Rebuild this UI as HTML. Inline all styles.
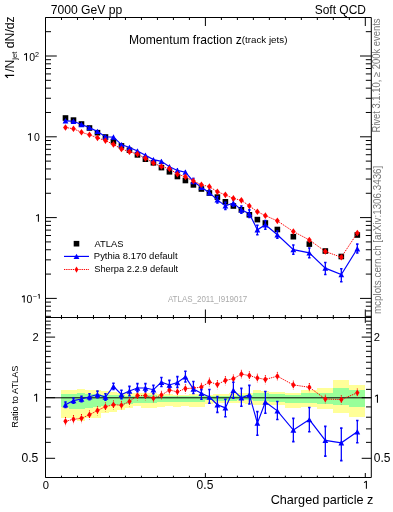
<!DOCTYPE html><html><head><meta charset="utf-8"><style>html,body{margin:0;padding:0;background:#fff;width:393px;height:512px;overflow:hidden;position:relative}</style></head><body><svg width="393" height="512" viewBox="0 0 393 512" style="position:absolute;left:0;top:0;will-change:transform">
<g font-family='"Liberation Sans", sans-serif'>
<g shape-rendering="crispEdges"><rect x="61.49" y="390.1" width="7.99" height="27.4" fill="#ffff99"/><rect x="69.48" y="390.1" width="7.99" height="27.6" fill="#ffff99"/><rect x="77.48" y="389.2" width="7.99" height="31.6" fill="#ffff99"/><rect x="85.47" y="389.5" width="8" height="28.8" fill="#ffff99"/><rect x="93.47" y="390.3" width="8" height="27.2" fill="#ffff99"/><rect x="101.47" y="390.8" width="8" height="22.3" fill="#ffff99"/><rect x="109.46" y="391.5" width="8" height="20.3" fill="#ffff99"/><rect x="117.45" y="392.7" width="8" height="17.2" fill="#ffff99"/><rect x="125.45" y="393.4" width="7.99" height="14.8" fill="#ffff99"/><rect x="133.44" y="393" width="8" height="13.1" fill="#ffff99"/><rect x="141.44" y="392.7" width="8" height="15.5" fill="#ffff99"/><rect x="149.44" y="392.7" width="8" height="15.5" fill="#ffff99"/><rect x="157.43" y="393.7" width="8" height="13.7" fill="#ffff99"/><rect x="165.43" y="394" width="8" height="12.1" fill="#ffff99"/><rect x="173.42" y="394.6" width="8" height="12.1" fill="#ffff99"/><rect x="181.41" y="394.6" width="8" height="11.5" fill="#ffff99"/><rect x="189.41" y="394.2" width="8" height="12.5" fill="#ffff99"/><rect x="197.41" y="394.2" width="7.99" height="12.5" fill="#ffff99"/><rect x="205.4" y="395" width="8" height="8.5" fill="#ffff99"/><rect x="213.4" y="394.2" width="7.99" height="8.7" fill="#ffff99"/><rect x="221.39" y="394" width="7.99" height="8.9" fill="#ffff99"/><rect x="229.39" y="393.4" width="7.99" height="9.8" fill="#ffff99"/><rect x="237.38" y="392.7" width="7.99" height="10.2" fill="#ffff99"/><rect x="245.38" y="392.7" width="7.99" height="10.8" fill="#ffff99"/><rect x="253.37" y="390.2" width="7.99" height="14.6" fill="#ffff99"/><rect x="261.37" y="390.8" width="8" height="14" fill="#ffff99"/><rect x="269.36" y="392" width="15.99" height="12.5" fill="#ffff99"/><rect x="285.35" y="393" width="15.99" height="14.7" fill="#ffff99"/><rect x="301.34" y="390" width="15.99" height="16.7" fill="#ffff99"/><rect x="317.33" y="388" width="15.99" height="20.6" fill="#ffff99"/><rect x="333.32" y="380" width="15.99" height="32.6" fill="#ffff99"/><rect x="349.31" y="385" width="15.99" height="31.7" fill="#ffff99"/><rect x="61.49" y="393.8" width="7.99" height="13.6" fill="#99ff99"/><rect x="69.48" y="393.8" width="7.99" height="14.8" fill="#99ff99"/><rect x="77.48" y="393.1" width="7.99" height="15.5" fill="#99ff99"/><rect x="85.47" y="393.5" width="8" height="14.1" fill="#99ff99"/><rect x="93.47" y="394.2" width="8" height="12.5" fill="#99ff99"/><rect x="101.47" y="395" width="8" height="11.1" fill="#99ff99"/><rect x="109.46" y="395" width="8" height="10.4" fill="#99ff99"/><rect x="117.45" y="395.3" width="8" height="9.5" fill="#99ff99"/><rect x="125.45" y="395.9" width="7.99" height="8" fill="#99ff99"/><rect x="133.44" y="396.3" width="8" height="6.6" fill="#99ff99"/><rect x="141.44" y="395" width="8" height="7.6" fill="#99ff99"/><rect x="149.44" y="395.2" width="8" height="7.4" fill="#99ff99"/><rect x="157.43" y="395.9" width="8" height="6.4" fill="#99ff99"/><rect x="165.43" y="395.9" width="8" height="6" fill="#99ff99"/><rect x="173.42" y="396.3" width="8" height="5.3" fill="#99ff99"/><rect x="181.41" y="396.3" width="8" height="5.3" fill="#99ff99"/><rect x="189.41" y="395.9" width="8" height="5.7" fill="#99ff99"/><rect x="197.41" y="395.9" width="7.99" height="5.7" fill="#99ff99"/><rect x="205.4" y="396.3" width="8" height="4.1" fill="#99ff99"/><rect x="213.4" y="395.9" width="7.99" height="5.1" fill="#99ff99"/><rect x="221.39" y="395.9" width="7.99" height="5.1" fill="#99ff99"/><rect x="229.39" y="395.5" width="7.99" height="5.9" fill="#99ff99"/><rect x="237.38" y="395" width="7.99" height="5.1" fill="#99ff99"/><rect x="245.38" y="395" width="7.99" height="5.3" fill="#99ff99"/><rect x="253.37" y="393.4" width="7.99" height="7.6" fill="#99ff99"/><rect x="261.37" y="393.4" width="8" height="7.6" fill="#99ff99"/><rect x="269.36" y="394.3" width="15.99" height="7.2" fill="#99ff99"/><rect x="285.35" y="394.7" width="15.99" height="8" fill="#99ff99"/><rect x="301.34" y="393" width="15.99" height="9.7" fill="#99ff99"/><rect x="317.33" y="393" width="15.99" height="10.8" fill="#99ff99"/><rect x="333.32" y="388.4" width="15.99" height="16.4" fill="#99ff99"/><rect x="349.31" y="390.3" width="15.99" height="16.6" fill="#99ff99"/></g>
<line x1="45.5" y1="397.8" x2="371.3" y2="397.8" stroke="#000" stroke-width="1"/>
<line x1="45.5" y1="316.33" x2="51" y2="316.33" stroke="#000" stroke-width="1"/><line x1="371.3" y1="316.33" x2="365.8" y2="316.33" stroke="#000" stroke-width="1"/><line x1="45.5" y1="310.92" x2="51" y2="310.92" stroke="#000" stroke-width="1"/><line x1="371.3" y1="310.92" x2="365.8" y2="310.92" stroke="#000" stroke-width="1"/><line x1="45.5" y1="306.23" x2="51" y2="306.23" stroke="#000" stroke-width="1"/><line x1="371.3" y1="306.23" x2="365.8" y2="306.23" stroke="#000" stroke-width="1"/><line x1="45.5" y1="302.1" x2="51" y2="302.1" stroke="#000" stroke-width="1"/><line x1="371.3" y1="302.1" x2="365.8" y2="302.1" stroke="#000" stroke-width="1"/><line x1="45.5" y1="298.4" x2="56.8" y2="298.4" stroke="#000" stroke-width="1"/><line x1="371.3" y1="298.4" x2="360" y2="298.4" stroke="#000" stroke-width="1"/><line x1="45.5" y1="274.08" x2="51" y2="274.08" stroke="#000" stroke-width="1"/><line x1="371.3" y1="274.08" x2="365.8" y2="274.08" stroke="#000" stroke-width="1"/><line x1="45.5" y1="259.85" x2="51" y2="259.85" stroke="#000" stroke-width="1"/><line x1="371.3" y1="259.85" x2="365.8" y2="259.85" stroke="#000" stroke-width="1"/><line x1="45.5" y1="249.75" x2="51" y2="249.75" stroke="#000" stroke-width="1"/><line x1="371.3" y1="249.75" x2="365.8" y2="249.75" stroke="#000" stroke-width="1"/><line x1="45.5" y1="241.92" x2="51" y2="241.92" stroke="#000" stroke-width="1"/><line x1="371.3" y1="241.92" x2="365.8" y2="241.92" stroke="#000" stroke-width="1"/><line x1="45.5" y1="235.53" x2="51" y2="235.53" stroke="#000" stroke-width="1"/><line x1="371.3" y1="235.53" x2="365.8" y2="235.53" stroke="#000" stroke-width="1"/><line x1="45.5" y1="230.12" x2="51" y2="230.12" stroke="#000" stroke-width="1"/><line x1="371.3" y1="230.12" x2="365.8" y2="230.12" stroke="#000" stroke-width="1"/><line x1="45.5" y1="225.43" x2="51" y2="225.43" stroke="#000" stroke-width="1"/><line x1="371.3" y1="225.43" x2="365.8" y2="225.43" stroke="#000" stroke-width="1"/><line x1="45.5" y1="221.3" x2="51" y2="221.3" stroke="#000" stroke-width="1"/><line x1="371.3" y1="221.3" x2="365.8" y2="221.3" stroke="#000" stroke-width="1"/><line x1="45.5" y1="217.6" x2="56.8" y2="217.6" stroke="#000" stroke-width="1"/><line x1="371.3" y1="217.6" x2="360" y2="217.6" stroke="#000" stroke-width="1"/><line x1="45.5" y1="193.28" x2="51" y2="193.28" stroke="#000" stroke-width="1"/><line x1="371.3" y1="193.28" x2="365.8" y2="193.28" stroke="#000" stroke-width="1"/><line x1="45.5" y1="179.05" x2="51" y2="179.05" stroke="#000" stroke-width="1"/><line x1="371.3" y1="179.05" x2="365.8" y2="179.05" stroke="#000" stroke-width="1"/><line x1="45.5" y1="168.95" x2="51" y2="168.95" stroke="#000" stroke-width="1"/><line x1="371.3" y1="168.95" x2="365.8" y2="168.95" stroke="#000" stroke-width="1"/><line x1="45.5" y1="161.12" x2="51" y2="161.12" stroke="#000" stroke-width="1"/><line x1="371.3" y1="161.12" x2="365.8" y2="161.12" stroke="#000" stroke-width="1"/><line x1="45.5" y1="154.73" x2="51" y2="154.73" stroke="#000" stroke-width="1"/><line x1="371.3" y1="154.73" x2="365.8" y2="154.73" stroke="#000" stroke-width="1"/><line x1="45.5" y1="149.32" x2="51" y2="149.32" stroke="#000" stroke-width="1"/><line x1="371.3" y1="149.32" x2="365.8" y2="149.32" stroke="#000" stroke-width="1"/><line x1="45.5" y1="144.63" x2="51" y2="144.63" stroke="#000" stroke-width="1"/><line x1="371.3" y1="144.63" x2="365.8" y2="144.63" stroke="#000" stroke-width="1"/><line x1="45.5" y1="140.5" x2="51" y2="140.5" stroke="#000" stroke-width="1"/><line x1="371.3" y1="140.5" x2="365.8" y2="140.5" stroke="#000" stroke-width="1"/><line x1="45.5" y1="136.8" x2="56.8" y2="136.8" stroke="#000" stroke-width="1"/><line x1="371.3" y1="136.8" x2="360" y2="136.8" stroke="#000" stroke-width="1"/><line x1="45.5" y1="112.48" x2="51" y2="112.48" stroke="#000" stroke-width="1"/><line x1="371.3" y1="112.48" x2="365.8" y2="112.48" stroke="#000" stroke-width="1"/><line x1="45.5" y1="98.25" x2="51" y2="98.25" stroke="#000" stroke-width="1"/><line x1="371.3" y1="98.25" x2="365.8" y2="98.25" stroke="#000" stroke-width="1"/><line x1="45.5" y1="88.15" x2="51" y2="88.15" stroke="#000" stroke-width="1"/><line x1="371.3" y1="88.15" x2="365.8" y2="88.15" stroke="#000" stroke-width="1"/><line x1="45.5" y1="80.32" x2="51" y2="80.32" stroke="#000" stroke-width="1"/><line x1="371.3" y1="80.32" x2="365.8" y2="80.32" stroke="#000" stroke-width="1"/><line x1="45.5" y1="73.93" x2="51" y2="73.93" stroke="#000" stroke-width="1"/><line x1="371.3" y1="73.93" x2="365.8" y2="73.93" stroke="#000" stroke-width="1"/><line x1="45.5" y1="68.52" x2="51" y2="68.52" stroke="#000" stroke-width="1"/><line x1="371.3" y1="68.52" x2="365.8" y2="68.52" stroke="#000" stroke-width="1"/><line x1="45.5" y1="63.83" x2="51" y2="63.83" stroke="#000" stroke-width="1"/><line x1="371.3" y1="63.83" x2="365.8" y2="63.83" stroke="#000" stroke-width="1"/><line x1="45.5" y1="59.7" x2="51" y2="59.7" stroke="#000" stroke-width="1"/><line x1="371.3" y1="59.7" x2="365.8" y2="59.7" stroke="#000" stroke-width="1"/><line x1="45.5" y1="56" x2="56.8" y2="56" stroke="#000" stroke-width="1"/><line x1="371.3" y1="56" x2="360" y2="56" stroke="#000" stroke-width="1"/><line x1="45.5" y1="31.68" x2="51" y2="31.68" stroke="#000" stroke-width="1"/><line x1="371.3" y1="31.68" x2="365.8" y2="31.68" stroke="#000" stroke-width="1"/><line x1="45.5" y1="458.3" x2="55.1" y2="458.3" stroke="#000" stroke-width="1"/><line x1="371.3" y1="458.3" x2="361.7" y2="458.3" stroke="#000" stroke-width="1"/><line x1="45.5" y1="442.36" x2="50.8" y2="442.36" stroke="#000" stroke-width="1"/><line x1="371.3" y1="442.36" x2="366" y2="442.36" stroke="#000" stroke-width="1"/><line x1="45.5" y1="428.88" x2="50.8" y2="428.88" stroke="#000" stroke-width="1"/><line x1="371.3" y1="428.88" x2="366" y2="428.88" stroke="#000" stroke-width="1"/><line x1="45.5" y1="417.21" x2="50.8" y2="417.21" stroke="#000" stroke-width="1"/><line x1="371.3" y1="417.21" x2="366" y2="417.21" stroke="#000" stroke-width="1"/><line x1="45.5" y1="406.91" x2="50.8" y2="406.91" stroke="#000" stroke-width="1"/><line x1="371.3" y1="406.91" x2="366" y2="406.91" stroke="#000" stroke-width="1"/><line x1="45.5" y1="397.7" x2="55.1" y2="397.7" stroke="#000" stroke-width="1"/><line x1="371.3" y1="397.7" x2="361.7" y2="397.7" stroke="#000" stroke-width="1"/><line x1="45.5" y1="389.37" x2="50.8" y2="389.37" stroke="#000" stroke-width="1"/><line x1="371.3" y1="389.37" x2="366" y2="389.37" stroke="#000" stroke-width="1"/><line x1="45.5" y1="381.76" x2="50.8" y2="381.76" stroke="#000" stroke-width="1"/><line x1="371.3" y1="381.76" x2="366" y2="381.76" stroke="#000" stroke-width="1"/><line x1="45.5" y1="374.76" x2="50.8" y2="374.76" stroke="#000" stroke-width="1"/><line x1="371.3" y1="374.76" x2="366" y2="374.76" stroke="#000" stroke-width="1"/><line x1="45.5" y1="368.28" x2="50.8" y2="368.28" stroke="#000" stroke-width="1"/><line x1="371.3" y1="368.28" x2="366" y2="368.28" stroke="#000" stroke-width="1"/><line x1="45.5" y1="362.25" x2="50.8" y2="362.25" stroke="#000" stroke-width="1"/><line x1="371.3" y1="362.25" x2="366" y2="362.25" stroke="#000" stroke-width="1"/><line x1="45.5" y1="356.61" x2="50.8" y2="356.61" stroke="#000" stroke-width="1"/><line x1="371.3" y1="356.61" x2="366" y2="356.61" stroke="#000" stroke-width="1"/><line x1="45.5" y1="351.31" x2="50.8" y2="351.31" stroke="#000" stroke-width="1"/><line x1="371.3" y1="351.31" x2="366" y2="351.31" stroke="#000" stroke-width="1"/><line x1="45.5" y1="346.31" x2="50.8" y2="346.31" stroke="#000" stroke-width="1"/><line x1="371.3" y1="346.31" x2="366" y2="346.31" stroke="#000" stroke-width="1"/><line x1="45.5" y1="341.58" x2="50.8" y2="341.58" stroke="#000" stroke-width="1"/><line x1="371.3" y1="341.58" x2="366" y2="341.58" stroke="#000" stroke-width="1"/><line x1="45.5" y1="337.1" x2="55.1" y2="337.1" stroke="#000" stroke-width="1"/><line x1="371.3" y1="337.1" x2="361.7" y2="337.1" stroke="#000" stroke-width="1"/><line x1="45.5" y1="332.83" x2="50.8" y2="332.83" stroke="#000" stroke-width="1"/><line x1="371.3" y1="332.83" x2="366" y2="332.83" stroke="#000" stroke-width="1"/><line x1="45.5" y1="328.77" x2="50.8" y2="328.77" stroke="#000" stroke-width="1"/><line x1="371.3" y1="328.77" x2="366" y2="328.77" stroke="#000" stroke-width="1"/><line x1="45.5" y1="324.88" x2="50.8" y2="324.88" stroke="#000" stroke-width="1"/><line x1="371.3" y1="324.88" x2="366" y2="324.88" stroke="#000" stroke-width="1"/><line x1="45.5" y1="321.16" x2="50.8" y2="321.16" stroke="#000" stroke-width="1"/><line x1="371.3" y1="321.16" x2="366" y2="321.16" stroke="#000" stroke-width="1"/><line x1="45.5" y1="17.5" x2="45.5" y2="26" stroke="#000" stroke-width="1"/><line x1="45.5" y1="317.5" x2="45.5" y2="309.5" stroke="#000" stroke-width="1"/><line x1="45.5" y1="317.5" x2="45.5" y2="322.9" stroke="#000" stroke-width="1"/><line x1="45.5" y1="477.5" x2="45.5" y2="473" stroke="#000" stroke-width="1"/><line x1="61.49" y1="17.5" x2="61.49" y2="20" stroke="#000" stroke-width="1"/><line x1="61.49" y1="317.5" x2="61.49" y2="315" stroke="#000" stroke-width="1"/><line x1="61.49" y1="317.5" x2="61.49" y2="319.1" stroke="#000" stroke-width="1"/><line x1="61.49" y1="477.5" x2="61.49" y2="475.7" stroke="#000" stroke-width="1"/><line x1="77.48" y1="17.5" x2="77.48" y2="20" stroke="#000" stroke-width="1"/><line x1="77.48" y1="317.5" x2="77.48" y2="315" stroke="#000" stroke-width="1"/><line x1="77.48" y1="317.5" x2="77.48" y2="319.1" stroke="#000" stroke-width="1"/><line x1="77.48" y1="477.5" x2="77.48" y2="475.7" stroke="#000" stroke-width="1"/><line x1="93.47" y1="17.5" x2="93.47" y2="20" stroke="#000" stroke-width="1"/><line x1="93.47" y1="317.5" x2="93.47" y2="315" stroke="#000" stroke-width="1"/><line x1="93.47" y1="317.5" x2="93.47" y2="319.1" stroke="#000" stroke-width="1"/><line x1="93.47" y1="477.5" x2="93.47" y2="475.7" stroke="#000" stroke-width="1"/><line x1="109.46" y1="17.5" x2="109.46" y2="20" stroke="#000" stroke-width="1"/><line x1="109.46" y1="317.5" x2="109.46" y2="315" stroke="#000" stroke-width="1"/><line x1="109.46" y1="317.5" x2="109.46" y2="319.1" stroke="#000" stroke-width="1"/><line x1="109.46" y1="477.5" x2="109.46" y2="475.7" stroke="#000" stroke-width="1"/><line x1="125.45" y1="17.5" x2="125.45" y2="20" stroke="#000" stroke-width="1"/><line x1="125.45" y1="317.5" x2="125.45" y2="315" stroke="#000" stroke-width="1"/><line x1="125.45" y1="317.5" x2="125.45" y2="319.1" stroke="#000" stroke-width="1"/><line x1="125.45" y1="477.5" x2="125.45" y2="475.7" stroke="#000" stroke-width="1"/><line x1="141.44" y1="17.5" x2="141.44" y2="20" stroke="#000" stroke-width="1"/><line x1="141.44" y1="317.5" x2="141.44" y2="315" stroke="#000" stroke-width="1"/><line x1="141.44" y1="317.5" x2="141.44" y2="319.1" stroke="#000" stroke-width="1"/><line x1="141.44" y1="477.5" x2="141.44" y2="475.7" stroke="#000" stroke-width="1"/><line x1="157.43" y1="17.5" x2="157.43" y2="20" stroke="#000" stroke-width="1"/><line x1="157.43" y1="317.5" x2="157.43" y2="315" stroke="#000" stroke-width="1"/><line x1="157.43" y1="317.5" x2="157.43" y2="319.1" stroke="#000" stroke-width="1"/><line x1="157.43" y1="477.5" x2="157.43" y2="475.7" stroke="#000" stroke-width="1"/><line x1="173.42" y1="17.5" x2="173.42" y2="20" stroke="#000" stroke-width="1"/><line x1="173.42" y1="317.5" x2="173.42" y2="315" stroke="#000" stroke-width="1"/><line x1="173.42" y1="317.5" x2="173.42" y2="319.1" stroke="#000" stroke-width="1"/><line x1="173.42" y1="477.5" x2="173.42" y2="475.7" stroke="#000" stroke-width="1"/><line x1="189.41" y1="17.5" x2="189.41" y2="20" stroke="#000" stroke-width="1"/><line x1="189.41" y1="317.5" x2="189.41" y2="315" stroke="#000" stroke-width="1"/><line x1="189.41" y1="317.5" x2="189.41" y2="319.1" stroke="#000" stroke-width="1"/><line x1="189.41" y1="477.5" x2="189.41" y2="475.7" stroke="#000" stroke-width="1"/><line x1="205.4" y1="17.5" x2="205.4" y2="26" stroke="#000" stroke-width="1"/><line x1="205.4" y1="317.5" x2="205.4" y2="309.5" stroke="#000" stroke-width="1"/><line x1="205.4" y1="317.5" x2="205.4" y2="322.9" stroke="#000" stroke-width="1"/><line x1="205.4" y1="477.5" x2="205.4" y2="473" stroke="#000" stroke-width="1"/><line x1="221.39" y1="17.5" x2="221.39" y2="20" stroke="#000" stroke-width="1"/><line x1="221.39" y1="317.5" x2="221.39" y2="315" stroke="#000" stroke-width="1"/><line x1="221.39" y1="317.5" x2="221.39" y2="319.1" stroke="#000" stroke-width="1"/><line x1="221.39" y1="477.5" x2="221.39" y2="475.7" stroke="#000" stroke-width="1"/><line x1="237.38" y1="17.5" x2="237.38" y2="20" stroke="#000" stroke-width="1"/><line x1="237.38" y1="317.5" x2="237.38" y2="315" stroke="#000" stroke-width="1"/><line x1="237.38" y1="317.5" x2="237.38" y2="319.1" stroke="#000" stroke-width="1"/><line x1="237.38" y1="477.5" x2="237.38" y2="475.7" stroke="#000" stroke-width="1"/><line x1="253.37" y1="17.5" x2="253.37" y2="20" stroke="#000" stroke-width="1"/><line x1="253.37" y1="317.5" x2="253.37" y2="315" stroke="#000" stroke-width="1"/><line x1="253.37" y1="317.5" x2="253.37" y2="319.1" stroke="#000" stroke-width="1"/><line x1="253.37" y1="477.5" x2="253.37" y2="475.7" stroke="#000" stroke-width="1"/><line x1="269.36" y1="17.5" x2="269.36" y2="20" stroke="#000" stroke-width="1"/><line x1="269.36" y1="317.5" x2="269.36" y2="315" stroke="#000" stroke-width="1"/><line x1="269.36" y1="317.5" x2="269.36" y2="319.1" stroke="#000" stroke-width="1"/><line x1="269.36" y1="477.5" x2="269.36" y2="475.7" stroke="#000" stroke-width="1"/><line x1="285.35" y1="17.5" x2="285.35" y2="20" stroke="#000" stroke-width="1"/><line x1="285.35" y1="317.5" x2="285.35" y2="315" stroke="#000" stroke-width="1"/><line x1="285.35" y1="317.5" x2="285.35" y2="319.1" stroke="#000" stroke-width="1"/><line x1="285.35" y1="477.5" x2="285.35" y2="475.7" stroke="#000" stroke-width="1"/><line x1="301.34" y1="17.5" x2="301.34" y2="20" stroke="#000" stroke-width="1"/><line x1="301.34" y1="317.5" x2="301.34" y2="315" stroke="#000" stroke-width="1"/><line x1="301.34" y1="317.5" x2="301.34" y2="319.1" stroke="#000" stroke-width="1"/><line x1="301.34" y1="477.5" x2="301.34" y2="475.7" stroke="#000" stroke-width="1"/><line x1="317.33" y1="17.5" x2="317.33" y2="20" stroke="#000" stroke-width="1"/><line x1="317.33" y1="317.5" x2="317.33" y2="315" stroke="#000" stroke-width="1"/><line x1="317.33" y1="317.5" x2="317.33" y2="319.1" stroke="#000" stroke-width="1"/><line x1="317.33" y1="477.5" x2="317.33" y2="475.7" stroke="#000" stroke-width="1"/><line x1="333.32" y1="17.5" x2="333.32" y2="20" stroke="#000" stroke-width="1"/><line x1="333.32" y1="317.5" x2="333.32" y2="315" stroke="#000" stroke-width="1"/><line x1="333.32" y1="317.5" x2="333.32" y2="319.1" stroke="#000" stroke-width="1"/><line x1="333.32" y1="477.5" x2="333.32" y2="475.7" stroke="#000" stroke-width="1"/><line x1="349.31" y1="17.5" x2="349.31" y2="20" stroke="#000" stroke-width="1"/><line x1="349.31" y1="317.5" x2="349.31" y2="315" stroke="#000" stroke-width="1"/><line x1="349.31" y1="317.5" x2="349.31" y2="319.1" stroke="#000" stroke-width="1"/><line x1="349.31" y1="477.5" x2="349.31" y2="475.7" stroke="#000" stroke-width="1"/><line x1="365.3" y1="17.5" x2="365.3" y2="26" stroke="#000" stroke-width="1"/><line x1="365.3" y1="317.5" x2="365.3" y2="309.5" stroke="#000" stroke-width="1"/><line x1="365.3" y1="317.5" x2="365.3" y2="322.9" stroke="#000" stroke-width="1"/><line x1="365.3" y1="477.5" x2="365.3" y2="473" stroke="#000" stroke-width="1"/>
<path d="M45.5,17.5H371.3V477.5H45.5Z M45.5,317.5H371.3" fill="none" stroke="#000" stroke-width="1"/>
<polyline points="65.49,421.3 73.48,419.3 81.48,418.3 89.47,414.7 97.47,410.5 105.46,406.7 113.46,404.7 121.45,405.2 129.45,401.5 137.44,395.6 145.44,395.6 153.43,398.2 161.43,395.1 169.42,390.1 177.42,391.8 185.41,388.6 193.41,388.1 201.4,387.1 209.4,381.9 217.39,384.4 225.39,380.4 233.38,378.8 241.38,374.1 249.37,375.6 257.37,378 265.36,379.4 277.36,376.2 293.35,384.9 309.33,387.3 325.32,399 341.31,399.5 357.31,392.8" fill="none" stroke="#ff0000" stroke-width="1" stroke-dasharray="1.3,0.9"/><path d="M65.49,417V426.1" stroke="#ff0000" stroke-width="1" stroke-dasharray="1,1.2"/><path d="M65.49,418L67.69,421.3L65.49,424.6L63.29,421.3Z" fill="#ff0000"/><path d="M73.48,415V424.1" stroke="#ff0000" stroke-width="1" stroke-dasharray="1,1.2"/><path d="M73.48,416L75.68,419.3L73.48,422.6L71.28,419.3Z" fill="#ff0000"/><path d="M81.48,414V423.1" stroke="#ff0000" stroke-width="1" stroke-dasharray="1,1.2"/><path d="M81.48,415L83.68,418.3L81.48,421.6L79.28,418.3Z" fill="#ff0000"/><path d="M89.47,410.4V419.5" stroke="#ff0000" stroke-width="1" stroke-dasharray="1,1.2"/><path d="M89.47,411.4L91.67,414.7L89.47,418L87.27,414.7Z" fill="#ff0000"/><path d="M97.47,406.2V415.3" stroke="#ff0000" stroke-width="1" stroke-dasharray="1,1.2"/><path d="M97.47,407.2L99.67,410.5L97.47,413.8L95.27,410.5Z" fill="#ff0000"/><path d="M105.46,402.4V411.5" stroke="#ff0000" stroke-width="1" stroke-dasharray="1,1.2"/><path d="M105.46,403.4L107.66,406.7L105.46,410L103.26,406.7Z" fill="#ff0000"/><path d="M113.46,400.4V409.5" stroke="#ff0000" stroke-width="1" stroke-dasharray="1,1.2"/><path d="M113.46,401.4L115.66,404.7L113.46,408L111.26,404.7Z" fill="#ff0000"/><path d="M121.45,400.9V410" stroke="#ff0000" stroke-width="1" stroke-dasharray="1,1.2"/><path d="M121.45,401.9L123.65,405.2L121.45,408.5L119.25,405.2Z" fill="#ff0000"/><path d="M129.45,397.2V406.3" stroke="#ff0000" stroke-width="1" stroke-dasharray="1,1.2"/><path d="M129.45,398.2L131.65,401.5L129.45,404.8L127.25,401.5Z" fill="#ff0000"/><path d="M137.44,391.3V400.4" stroke="#ff0000" stroke-width="1" stroke-dasharray="1,1.2"/><path d="M137.44,392.3L139.64,395.6L137.44,398.9L135.24,395.6Z" fill="#ff0000"/><path d="M145.44,391.3V400.4" stroke="#ff0000" stroke-width="1" stroke-dasharray="1,1.2"/><path d="M145.44,392.3L147.64,395.6L145.44,398.9L143.24,395.6Z" fill="#ff0000"/><path d="M153.43,393.9V403" stroke="#ff0000" stroke-width="1" stroke-dasharray="1,1.2"/><path d="M153.43,394.9L155.63,398.2L153.43,401.5L151.23,398.2Z" fill="#ff0000"/><path d="M161.43,390.8V399.9" stroke="#ff0000" stroke-width="1" stroke-dasharray="1,1.2"/><path d="M161.43,391.8L163.63,395.1L161.43,398.4L159.23,395.1Z" fill="#ff0000"/><path d="M169.42,385.8V394.9" stroke="#ff0000" stroke-width="1" stroke-dasharray="1,1.2"/><path d="M169.42,386.8L171.62,390.1L169.42,393.4L167.22,390.1Z" fill="#ff0000"/><path d="M177.42,387.5V396.6" stroke="#ff0000" stroke-width="1" stroke-dasharray="1,1.2"/><path d="M177.42,388.5L179.62,391.8L177.42,395.1L175.22,391.8Z" fill="#ff0000"/><path d="M185.41,384.3V393.4" stroke="#ff0000" stroke-width="1" stroke-dasharray="1,1.2"/><path d="M185.41,385.3L187.61,388.6L185.41,391.9L183.21,388.6Z" fill="#ff0000"/><path d="M193.41,383.8V392.9" stroke="#ff0000" stroke-width="1" stroke-dasharray="1,1.2"/><path d="M193.41,384.8L195.61,388.1L193.41,391.4L191.21,388.1Z" fill="#ff0000"/><path d="M201.4,382.8V391.9" stroke="#ff0000" stroke-width="1" stroke-dasharray="1,1.2"/><path d="M201.4,383.8L203.6,387.1L201.4,390.4L199.2,387.1Z" fill="#ff0000"/><path d="M209.4,377.6V386.7" stroke="#ff0000" stroke-width="1" stroke-dasharray="1,1.2"/><path d="M209.4,378.6L211.6,381.9L209.4,385.2L207.2,381.9Z" fill="#ff0000"/><path d="M217.39,380.1V389.2" stroke="#ff0000" stroke-width="1" stroke-dasharray="1,1.2"/><path d="M217.39,381.1L219.59,384.4L217.39,387.7L215.19,384.4Z" fill="#ff0000"/><path d="M225.39,376.1V385.2" stroke="#ff0000" stroke-width="1" stroke-dasharray="1,1.2"/><path d="M225.39,377.1L227.59,380.4L225.39,383.7L223.19,380.4Z" fill="#ff0000"/><path d="M233.38,374.5V383.6" stroke="#ff0000" stroke-width="1" stroke-dasharray="1,1.2"/><path d="M233.38,375.5L235.58,378.8L233.38,382.1L231.18,378.8Z" fill="#ff0000"/><path d="M241.38,369.8V378.9" stroke="#ff0000" stroke-width="1" stroke-dasharray="1,1.2"/><path d="M241.38,370.8L243.58,374.1L241.38,377.4L239.18,374.1Z" fill="#ff0000"/><path d="M249.37,371.3V380.4" stroke="#ff0000" stroke-width="1" stroke-dasharray="1,1.2"/><path d="M249.37,372.3L251.57,375.6L249.37,378.9L247.17,375.6Z" fill="#ff0000"/><path d="M257.37,373.7V382.8" stroke="#ff0000" stroke-width="1" stroke-dasharray="1,1.2"/><path d="M257.37,374.7L259.57,378L257.37,381.3L255.17,378Z" fill="#ff0000"/><path d="M265.36,375.1V384.2" stroke="#ff0000" stroke-width="1" stroke-dasharray="1,1.2"/><path d="M265.36,376.1L267.56,379.4L265.36,382.7L263.16,379.4Z" fill="#ff0000"/><path d="M277.36,371.9V381" stroke="#ff0000" stroke-width="1" stroke-dasharray="1,1.2"/><path d="M277.36,372.9L279.56,376.2L277.36,379.5L275.16,376.2Z" fill="#ff0000"/><path d="M293.35,380.6V389.7" stroke="#ff0000" stroke-width="1" stroke-dasharray="1,1.2"/><path d="M293.35,381.6L295.55,384.9L293.35,388.2L291.15,384.9Z" fill="#ff0000"/><path d="M309.33,383V392.1" stroke="#ff0000" stroke-width="1" stroke-dasharray="1,1.2"/><path d="M309.33,384L311.53,387.3L309.33,390.6L307.13,387.3Z" fill="#ff0000"/><path d="M325.32,394.7V403.8" stroke="#ff0000" stroke-width="1" stroke-dasharray="1,1.2"/><path d="M325.32,395.7L327.52,399L325.32,402.3L323.12,399Z" fill="#ff0000"/><path d="M341.31,395.2V404.3" stroke="#ff0000" stroke-width="1" stroke-dasharray="1,1.2"/><path d="M341.31,396.2L343.51,399.5L341.31,402.8L339.12,399.5Z" fill="#ff0000"/><path d="M357.31,388.5V397.6" stroke="#ff0000" stroke-width="1" stroke-dasharray="1,1.2"/><path d="M357.31,389.5L359.5,392.8L357.31,396.1L355.11,392.8Z" fill="#ff0000"/><polyline points="65.49,404.7 73.48,400.6 81.48,399 89.47,396.8 97.47,394.5 105.46,397.1 113.46,386.4 121.45,394.5 129.45,391 137.44,388 145.44,388 153.43,389.7 161.43,382.2 169.42,385 177.42,382.5 185.41,376.9 193.41,389.1 201.4,393.2 209.4,397.1 217.39,404.7 225.39,407.9 233.38,390.3 241.38,397.8 249.37,394.8 257.37,423.1 265.36,402 277.36,410.9 293.35,430 309.33,419.6 325.32,440.4 341.31,442.8 357.31,431.8" fill="none" stroke="#0000ff" stroke-width="1.15"/><path d="M65.49,402V407.5" stroke="#0000ff" stroke-width="1.25" fill="none"/><path d="M64.29,402H66.69M64.29,407.5H66.69" stroke="#0000ff" stroke-width="1.6" fill="none"/><path d="M65.49,402L68.39,407.4L62.59,407.4Z" fill="#0000ff"/><path d="M73.48,398V403.2" stroke="#0000ff" stroke-width="1.25" fill="none"/><path d="M72.28,398H74.68M72.28,403.2H74.68" stroke="#0000ff" stroke-width="1.6" fill="none"/><path d="M73.48,397.9L76.38,403.3L70.58,403.3Z" fill="#0000ff"/><path d="M81.48,396.3V401.7" stroke="#0000ff" stroke-width="1.25" fill="none"/><path d="M80.28,396.3H82.68M80.28,401.7H82.68" stroke="#0000ff" stroke-width="1.6" fill="none"/><path d="M81.48,396.3L84.38,401.7L78.58,401.7Z" fill="#0000ff"/><path d="M89.47,393.8V399.8" stroke="#0000ff" stroke-width="1.25" fill="none"/><path d="M88.27,393.8H90.67M88.27,399.8H90.67" stroke="#0000ff" stroke-width="1.6" fill="none"/><path d="M89.47,394.1L92.37,399.5L86.57,399.5Z" fill="#0000ff"/><path d="M97.47,391.1V397.6" stroke="#0000ff" stroke-width="1.25" fill="none"/><path d="M96.27,391.1H98.67M96.27,397.6H98.67" stroke="#0000ff" stroke-width="1.6" fill="none"/><path d="M97.47,391.8L100.37,397.2L94.57,397.2Z" fill="#0000ff"/><path d="M105.46,393.7V400.1" stroke="#0000ff" stroke-width="1.25" fill="none"/><path d="M104.26,393.7H106.66M104.26,400.1H106.66" stroke="#0000ff" stroke-width="1.6" fill="none"/><path d="M105.46,394.4L108.36,399.8L102.56,399.8Z" fill="#0000ff"/><path d="M113.46,383.3V389.5" stroke="#0000ff" stroke-width="1.25" fill="none"/><path d="M112.26,383.3H114.66M112.26,389.5H114.66" stroke="#0000ff" stroke-width="1.6" fill="none"/><path d="M113.46,383.7L116.36,389.1L110.56,389.1Z" fill="#0000ff"/><path d="M121.45,390.2V398.8" stroke="#0000ff" stroke-width="1.25" fill="none"/><path d="M120.25,390.2H122.65M120.25,398.8H122.65" stroke="#0000ff" stroke-width="1.6" fill="none"/><path d="M121.45,391.8L124.35,397.2L118.55,397.2Z" fill="#0000ff"/><path d="M129.45,386.4V395.6" stroke="#0000ff" stroke-width="1.25" fill="none"/><path d="M128.25,386.4H130.65M128.25,395.6H130.65" stroke="#0000ff" stroke-width="1.6" fill="none"/><path d="M129.45,388.3L132.35,393.7L126.55,393.7Z" fill="#0000ff"/><path d="M137.44,383.6V391.6" stroke="#0000ff" stroke-width="1.25" fill="none"/><path d="M136.24,383.6H138.64M136.24,391.6H138.64" stroke="#0000ff" stroke-width="1.6" fill="none"/><path d="M137.44,385.3L140.34,390.7L134.54,390.7Z" fill="#0000ff"/><path d="M145.44,383.6V391.6" stroke="#0000ff" stroke-width="1.25" fill="none"/><path d="M144.24,383.6H146.64M144.24,391.6H146.64" stroke="#0000ff" stroke-width="1.6" fill="none"/><path d="M145.44,385.3L148.34,390.7L142.54,390.7Z" fill="#0000ff"/><path d="M153.43,385.4V393.6" stroke="#0000ff" stroke-width="1.25" fill="none"/><path d="M152.23,385.4H154.63M152.23,393.6H154.63" stroke="#0000ff" stroke-width="1.6" fill="none"/><path d="M153.43,387L156.33,392.4L150.53,392.4Z" fill="#0000ff"/><path d="M161.43,377.5V386.5" stroke="#0000ff" stroke-width="1.25" fill="none"/><path d="M160.23,377.5H162.63M160.23,386.5H162.63" stroke="#0000ff" stroke-width="1.6" fill="none"/><path d="M161.43,379.5L164.33,384.9L158.53,384.9Z" fill="#0000ff"/><path d="M169.42,380.4V387.6" stroke="#0000ff" stroke-width="1.25" fill="none"/><path d="M168.22,380.4H170.62M168.22,387.6H170.62" stroke="#0000ff" stroke-width="1.6" fill="none"/><path d="M169.42,382.3L172.32,387.7L166.52,387.7Z" fill="#0000ff"/><path d="M177.42,376.6V387.4" stroke="#0000ff" stroke-width="1.25" fill="none"/><path d="M176.22,376.6H178.62M176.22,387.4H178.62" stroke="#0000ff" stroke-width="1.6" fill="none"/><path d="M177.42,379.8L180.32,385.2L174.52,385.2Z" fill="#0000ff"/><path d="M185.41,371.3V382" stroke="#0000ff" stroke-width="1.25" fill="none"/><path d="M184.21,371.3H186.61M184.21,382H186.61" stroke="#0000ff" stroke-width="1.6" fill="none"/><path d="M185.41,374.2L188.31,379.6L182.51,379.6Z" fill="#0000ff"/><path d="M193.41,381.5V393.5" stroke="#0000ff" stroke-width="1.25" fill="none"/><path d="M192.21,381.5H194.61M192.21,393.5H194.61" stroke="#0000ff" stroke-width="1.6" fill="none"/><path d="M193.41,386.4L196.31,391.8L190.51,391.8Z" fill="#0000ff"/><path d="M201.4,389.6V399.3" stroke="#0000ff" stroke-width="1.25" fill="none"/><path d="M200.2,389.6H202.6M200.2,399.3H202.6" stroke="#0000ff" stroke-width="1.6" fill="none"/><path d="M201.4,390.5L204.3,395.9L198.5,395.9Z" fill="#0000ff"/><path d="M209.4,389.5V403.3" stroke="#0000ff" stroke-width="1.25" fill="none"/><path d="M208.2,389.5H210.6M208.2,403.3H210.6" stroke="#0000ff" stroke-width="1.6" fill="none"/><path d="M209.4,394.4L212.3,399.8L206.5,399.8Z" fill="#0000ff"/><path d="M217.39,396.5V412.4" stroke="#0000ff" stroke-width="1.25" fill="none"/><path d="M216.19,396.5H218.59M216.19,412.4H218.59" stroke="#0000ff" stroke-width="1.6" fill="none"/><path d="M217.39,402L220.29,407.4L214.49,407.4Z" fill="#0000ff"/><path d="M225.39,399.2V416.8" stroke="#0000ff" stroke-width="1.25" fill="none"/><path d="M224.19,399.2H226.59M224.19,416.8H226.59" stroke="#0000ff" stroke-width="1.6" fill="none"/><path d="M225.39,405.2L228.29,410.6L222.49,410.6Z" fill="#0000ff"/><path d="M233.38,382.3V398.3" stroke="#0000ff" stroke-width="1.25" fill="none"/><path d="M232.18,382.3H234.58M232.18,398.3H234.58" stroke="#0000ff" stroke-width="1.6" fill="none"/><path d="M233.38,387.6L236.28,393L230.48,393Z" fill="#0000ff"/><path d="M241.38,388.4V406.3" stroke="#0000ff" stroke-width="1.25" fill="none"/><path d="M240.18,388.4H242.58M240.18,406.3H242.58" stroke="#0000ff" stroke-width="1.6" fill="none"/><path d="M241.38,395.1L244.28,400.5L238.48,400.5Z" fill="#0000ff"/><path d="M249.37,385.4V404" stroke="#0000ff" stroke-width="1.25" fill="none"/><path d="M248.17,385.4H250.57M248.17,404H250.57" stroke="#0000ff" stroke-width="1.6" fill="none"/><path d="M249.37,392.1L252.27,397.5L246.47,397.5Z" fill="#0000ff"/><path d="M257.37,411.6V435.3" stroke="#0000ff" stroke-width="1.25" fill="none"/><path d="M256.17,411.6H258.57M256.17,435.3H258.57" stroke="#0000ff" stroke-width="1.6" fill="none"/><path d="M257.37,420.4L260.27,425.8L254.47,425.8Z" fill="#0000ff"/><path d="M265.36,391.5V413.2" stroke="#0000ff" stroke-width="1.25" fill="none"/><path d="M264.16,391.5H266.56M264.16,413.2H266.56" stroke="#0000ff" stroke-width="1.6" fill="none"/><path d="M265.36,399.3L268.26,404.7L262.46,404.7Z" fill="#0000ff"/><path d="M277.36,401.5V419.5" stroke="#0000ff" stroke-width="1.25" fill="none"/><path d="M276.16,401.5H278.56M276.16,419.5H278.56" stroke="#0000ff" stroke-width="1.6" fill="none"/><path d="M277.36,408.2L280.25,413.6L274.46,413.6Z" fill="#0000ff"/><path d="M293.35,418.4V441.6" stroke="#0000ff" stroke-width="1.25" fill="none"/><path d="M292.15,418.4H294.55M292.15,441.6H294.55" stroke="#0000ff" stroke-width="1.6" fill="none"/><path d="M293.35,427.3L296.25,432.7L290.45,432.7Z" fill="#0000ff"/><path d="M309.33,407.5V431.7" stroke="#0000ff" stroke-width="1.25" fill="none"/><path d="M308.13,407.5H310.53M308.13,431.7H310.53" stroke="#0000ff" stroke-width="1.6" fill="none"/><path d="M309.33,416.9L312.23,422.3L306.44,422.3Z" fill="#0000ff"/><path d="M325.32,426.4V456.1" stroke="#0000ff" stroke-width="1.25" fill="none"/><path d="M324.12,426.4H326.52M324.12,456.1H326.52" stroke="#0000ff" stroke-width="1.6" fill="none"/><path d="M325.32,437.7L328.22,443.1L322.43,443.1Z" fill="#0000ff"/><path d="M341.31,428.1V460.6" stroke="#0000ff" stroke-width="1.25" fill="none"/><path d="M340.12,428.1H342.51M340.12,460.6H342.51" stroke="#0000ff" stroke-width="1.6" fill="none"/><path d="M341.31,440.1L344.21,445.5L338.42,445.5Z" fill="#0000ff"/><path d="M357.31,420.5V442.7" stroke="#0000ff" stroke-width="1.25" fill="none"/><path d="M356.11,420.5H358.5M356.11,442.7H358.5" stroke="#0000ff" stroke-width="1.6" fill="none"/><path d="M357.31,429.1L360.2,434.5L354.41,434.5Z" fill="#0000ff"/>
<rect x="62.69" y="115.2" width="5.6" height="5.6" fill="#000"/><rect x="70.68" y="117.3" width="5.6" height="5.6" fill="#000"/><rect x="78.68" y="121.2" width="5.6" height="5.6" fill="#000"/><rect x="86.67" y="125.2" width="5.6" height="5.6" fill="#000"/><rect x="94.67" y="129.9" width="5.6" height="5.6" fill="#000"/><rect x="102.66" y="134.2" width="5.6" height="5.6" fill="#000"/><rect x="110.66" y="138.8" width="5.6" height="5.6" fill="#000"/><rect x="118.65" y="143.1" width="5.6" height="5.6" fill="#000"/><rect x="126.65" y="147.4" width="5.6" height="5.6" fill="#000"/><rect x="134.64" y="152.1" width="5.6" height="5.6" fill="#000"/><rect x="142.64" y="156.4" width="5.6" height="5.6" fill="#000"/><rect x="150.63" y="160" width="5.6" height="5.6" fill="#000"/><rect x="158.63" y="164.8" width="5.6" height="5.6" fill="#000"/><rect x="166.62" y="169" width="5.6" height="5.6" fill="#000"/><rect x="174.62" y="173.7" width="5.6" height="5.6" fill="#000"/><rect x="182.61" y="177.7" width="5.6" height="5.6" fill="#000"/><rect x="190.61" y="182.1" width="5.6" height="5.6" fill="#000"/><rect x="198.6" y="186.2" width="5.6" height="5.6" fill="#000"/><rect x="206.6" y="190.2" width="5.6" height="5.6" fill="#000"/><rect x="214.59" y="194.3" width="5.6" height="5.6" fill="#000"/><rect x="222.59" y="199" width="5.6" height="5.6" fill="#000"/><rect x="230.58" y="203.2" width="5.6" height="5.6" fill="#000"/><rect x="238.58" y="207" width="5.6" height="5.6" fill="#000"/><rect x="246.57" y="212" width="5.6" height="5.6" fill="#000"/><rect x="254.57" y="216.8" width="5.6" height="5.6" fill="#000"/><rect x="262.56" y="220.2" width="5.6" height="5.6" fill="#000"/><rect x="274.56" y="226.7" width="5.6" height="5.6" fill="#000"/><rect x="290.55" y="233.9" width="5.6" height="5.6" fill="#000"/><rect x="306.53" y="241.3" width="5.6" height="5.6" fill="#000"/><rect x="322.52" y="248.2" width="5.6" height="5.6" fill="#000"/><rect x="338.51" y="253.7" width="5.6" height="5.6" fill="#000"/><rect x="354.5" y="232.2" width="5.6" height="5.6" fill="#000"/><polyline points="65.49,120.81 73.48,121.26 81.48,124.52 89.47,127.64 97.47,131.42 105.46,136.76 113.46,137.06 121.45,144.62 129.45,147.51 137.44,151.01 145.44,155.31 153.43,159.59 161.43,161.38 169.42,166.7 177.42,170.4 185.41,172.15 193.41,181.45 201.4,187.19 209.4,192.76 217.39,199.91 225.39,205.89 233.38,203.03 241.38,209.84 249.37,213.64 257.37,229.8 265.36,224.73 277.36,234.8 293.35,249.67 309.33,252.89 325.32,268.14 341.31,274.6 357.31,248.69" fill="none" stroke="#0000ff" stroke-width="1.15"/><path d="M65.49,119.73V121.93" stroke="#0000ff" stroke-width="1.25" fill="none"/><path d="M65.49,118.11L68.39,123.51L62.59,123.51Z" fill="#0000ff"/><path d="M73.48,120.22V122.31" stroke="#0000ff" stroke-width="1.25" fill="none"/><path d="M73.48,118.56L76.38,123.96L70.58,123.96Z" fill="#0000ff"/><path d="M81.48,123.44V125.61" stroke="#0000ff" stroke-width="1.25" fill="none"/><path d="M81.48,121.82L84.38,127.22L78.58,127.22Z" fill="#0000ff"/><path d="M89.47,126.43V128.84" stroke="#0000ff" stroke-width="1.25" fill="none"/><path d="M89.47,124.94L92.37,130.34L86.57,130.34Z" fill="#0000ff"/><path d="M97.47,130.05V132.66" stroke="#0000ff" stroke-width="1.25" fill="none"/><path d="M97.47,128.72L100.37,134.12L94.57,134.12Z" fill="#0000ff"/><path d="M105.46,135.39V137.96" stroke="#0000ff" stroke-width="1.25" fill="none"/><path d="M105.46,134.06L108.36,139.46L102.56,139.46Z" fill="#0000ff"/><path d="M113.46,135.82V138.31" stroke="#0000ff" stroke-width="1.25" fill="none"/><path d="M113.46,134.36L116.36,139.76L110.56,139.76Z" fill="#0000ff"/><path d="M121.45,142.89V146.34" stroke="#0000ff" stroke-width="1.25" fill="none"/><path d="M121.45,141.92L124.35,147.32L118.55,147.32Z" fill="#0000ff"/><path d="M129.45,145.66V149.36" stroke="#0000ff" stroke-width="1.25" fill="none"/><path d="M129.45,144.81L132.35,150.21L126.55,150.21Z" fill="#0000ff"/><path d="M137.44,149.24V152.45" stroke="#0000ff" stroke-width="1.25" fill="none"/><path d="M137.44,148.31L140.34,153.71L134.54,153.71Z" fill="#0000ff"/><path d="M145.44,153.54V156.75" stroke="#0000ff" stroke-width="1.25" fill="none"/><path d="M145.44,152.61L148.34,158.01L142.54,158.01Z" fill="#0000ff"/><path d="M153.43,157.86V161.15" stroke="#0000ff" stroke-width="1.25" fill="none"/><path d="M153.43,156.89L156.33,162.29L150.53,162.29Z" fill="#0000ff"/><path d="M161.43,159.49V163.1" stroke="#0000ff" stroke-width="1.25" fill="none"/><path d="M161.43,158.68L164.33,164.08L158.53,164.08Z" fill="#0000ff"/><path d="M169.42,164.86V167.75" stroke="#0000ff" stroke-width="1.25" fill="none"/><path d="M169.42,164L172.32,169.4L166.52,169.4Z" fill="#0000ff"/><path d="M177.42,168.03V172.37" stroke="#0000ff" stroke-width="1.25" fill="none"/><path d="M177.42,167.7L180.32,173.1L174.52,173.1Z" fill="#0000ff"/><path d="M185.41,169.9V174.2" stroke="#0000ff" stroke-width="1.25" fill="none"/><path d="M185.41,169.45L188.31,174.85L182.51,174.85Z" fill="#0000ff"/><path d="M193.41,178.4V183.21" stroke="#0000ff" stroke-width="1.25" fill="none"/><path d="M192.21,178.4H194.61" stroke="#0000ff" stroke-width="1.6" fill="none"/><path d="M193.41,178.75L196.31,184.15L190.51,184.15Z" fill="#0000ff"/><path d="M201.4,185.75V189.64" stroke="#0000ff" stroke-width="1.25" fill="none"/><path d="M201.4,184.49L204.3,189.89L198.5,189.89Z" fill="#0000ff"/><path d="M209.4,189.71V195.25" stroke="#0000ff" stroke-width="1.25" fill="none"/><path d="M208.2,189.71H210.6" stroke="#0000ff" stroke-width="1.6" fill="none"/><path d="M209.4,190.06L212.3,195.46L206.5,195.46Z" fill="#0000ff"/><path d="M217.39,196.62V203" stroke="#0000ff" stroke-width="1.25" fill="none"/><path d="M216.19,196.62H218.59M216.19,203H218.59" stroke="#0000ff" stroke-width="1.6" fill="none"/><path d="M217.39,197.21L220.29,202.61L214.49,202.61Z" fill="#0000ff"/><path d="M225.39,202.4V209.47" stroke="#0000ff" stroke-width="1.25" fill="none"/><path d="M224.19,202.4H226.59M224.19,209.47H226.59" stroke="#0000ff" stroke-width="1.6" fill="none"/><path d="M225.39,203.19L228.29,208.59L222.49,208.59Z" fill="#0000ff"/><path d="M233.38,199.82V206.24" stroke="#0000ff" stroke-width="1.25" fill="none"/><path d="M232.18,199.82H234.58M232.18,206.24H234.58" stroke="#0000ff" stroke-width="1.6" fill="none"/><path d="M233.38,200.33L236.28,205.73L230.48,205.73Z" fill="#0000ff"/><path d="M241.38,206.07V213.25" stroke="#0000ff" stroke-width="1.25" fill="none"/><path d="M240.18,206.07H242.58M240.18,213.25H242.58" stroke="#0000ff" stroke-width="1.6" fill="none"/><path d="M241.38,207.14L244.28,212.54L238.48,212.54Z" fill="#0000ff"/><path d="M249.37,209.86V217.33" stroke="#0000ff" stroke-width="1.25" fill="none"/><path d="M248.17,209.86H250.57M248.17,217.33H250.57" stroke="#0000ff" stroke-width="1.6" fill="none"/><path d="M249.37,210.94L252.27,216.34L246.47,216.34Z" fill="#0000ff"/><path d="M257.37,225.18V234.69" stroke="#0000ff" stroke-width="1.25" fill="none"/><path d="M256.17,225.18H258.57M256.17,234.69H258.57" stroke="#0000ff" stroke-width="1.6" fill="none"/><path d="M257.37,227.1L260.27,232.5L254.47,232.5Z" fill="#0000ff"/><path d="M265.36,220.51V229.22" stroke="#0000ff" stroke-width="1.25" fill="none"/><path d="M264.16,220.51H266.56M264.16,229.22H266.56" stroke="#0000ff" stroke-width="1.6" fill="none"/><path d="M265.36,222.03L268.26,227.43L262.46,227.43Z" fill="#0000ff"/><path d="M277.36,231.03V238.25" stroke="#0000ff" stroke-width="1.25" fill="none"/><path d="M276.16,231.03H278.56M276.16,238.25H278.56" stroke="#0000ff" stroke-width="1.6" fill="none"/><path d="M277.36,232.1L280.25,237.5L274.46,237.5Z" fill="#0000ff"/><path d="M293.35,245.01V254.32" stroke="#0000ff" stroke-width="1.25" fill="none"/><path d="M292.15,245.01H294.55M292.15,254.32H294.55" stroke="#0000ff" stroke-width="1.6" fill="none"/><path d="M293.35,246.97L296.25,252.37L290.45,252.37Z" fill="#0000ff"/><path d="M309.33,248.03V257.75" stroke="#0000ff" stroke-width="1.25" fill="none"/><path d="M308.13,248.03H310.53M308.13,257.75H310.53" stroke="#0000ff" stroke-width="1.6" fill="none"/><path d="M309.33,250.19L312.23,255.59L306.44,255.59Z" fill="#0000ff"/><path d="M325.32,262.52V274.44" stroke="#0000ff" stroke-width="1.25" fill="none"/><path d="M324.12,262.52H326.52M324.12,274.44H326.52" stroke="#0000ff" stroke-width="1.6" fill="none"/><path d="M325.32,265.44L328.22,270.84L322.43,270.84Z" fill="#0000ff"/><path d="M341.31,268.7V281.75" stroke="#0000ff" stroke-width="1.25" fill="none"/><path d="M340.12,268.7H342.51M340.12,281.75H342.51" stroke="#0000ff" stroke-width="1.6" fill="none"/><path d="M341.31,271.9L344.21,277.3L338.42,277.3Z" fill="#0000ff"/><path d="M357.31,244.15V253.06" stroke="#0000ff" stroke-width="1.25" fill="none"/><path d="M356.11,244.15H358.5M356.11,253.06H358.5" stroke="#0000ff" stroke-width="1.6" fill="none"/><path d="M357.31,245.99L360.2,251.39L354.41,251.39Z" fill="#0000ff"/><polyline points="65.49,127.47 73.48,128.77 81.48,132.27 89.47,134.82 97.47,137.84 105.46,140.61 113.46,144.41 121.45,148.91 129.45,151.73 137.44,154.06 145.44,158.36 153.43,163 161.43,166.56 169.42,168.75 177.42,174.13 185.41,176.85 193.41,181.05 201.4,184.75 209.4,186.66 217.39,191.76 225.39,194.86 233.38,198.41 241.38,200.33 249.37,205.93 257.37,211.69 265.36,215.65 277.36,220.87 293.35,231.56 309.33,239.93 325.32,251.52 341.31,257.22 357.31,233.03" fill="none" stroke="#ff0000" stroke-width="1" stroke-dasharray="1.3,0.9"/><path d="M65.49,124.17L67.89,127.47L65.49,130.77L63.09,127.47Z" fill="#ff0000"/><path d="M73.48,125.47L75.88,128.77L73.48,132.07L71.08,128.77Z" fill="#ff0000"/><path d="M81.48,128.97L83.88,132.27L81.48,135.57L79.08,132.27Z" fill="#ff0000"/><path d="M89.47,131.52L91.87,134.82L89.47,138.12L87.07,134.82Z" fill="#ff0000"/><path d="M97.47,134.54L99.87,137.84L97.47,141.14L95.07,137.84Z" fill="#ff0000"/><path d="M105.46,137.31L107.86,140.61L105.46,143.91L103.06,140.61Z" fill="#ff0000"/><path d="M113.46,141.11L115.86,144.41L113.46,147.71L111.06,144.41Z" fill="#ff0000"/><path d="M121.45,145.61L123.85,148.91L121.45,152.21L119.05,148.91Z" fill="#ff0000"/><path d="M129.45,148.43L131.85,151.73L129.45,155.03L127.05,151.73Z" fill="#ff0000"/><path d="M137.44,150.76L139.84,154.06L137.44,157.36L135.04,154.06Z" fill="#ff0000"/><path d="M145.44,155.06L147.84,158.36L145.44,161.66L143.04,158.36Z" fill="#ff0000"/><path d="M153.43,159.7L155.83,163L153.43,166.3L151.03,163Z" fill="#ff0000"/><path d="M161.43,163.26L163.83,166.56L161.43,169.86L159.03,166.56Z" fill="#ff0000"/><path d="M169.42,165.45L171.82,168.75L169.42,172.05L167.02,168.75Z" fill="#ff0000"/><path d="M177.42,170.83L179.82,174.13L177.42,177.43L175.02,174.13Z" fill="#ff0000"/><path d="M185.41,173.55L187.81,176.85L185.41,180.15L183.01,176.85Z" fill="#ff0000"/><path d="M193.41,177.75L195.81,181.05L193.41,184.35L191.01,181.05Z" fill="#ff0000"/><path d="M201.4,181.45L203.8,184.75L201.4,188.05L199,184.75Z" fill="#ff0000"/><path d="M209.4,183.36L211.8,186.66L209.4,189.96L207,186.66Z" fill="#ff0000"/><path d="M217.39,188.46L219.79,191.76L217.39,195.06L214.99,191.76Z" fill="#ff0000"/><path d="M225.39,191.56L227.79,194.86L225.39,198.16L222.99,194.86Z" fill="#ff0000"/><path d="M233.38,195.11L235.78,198.41L233.38,201.71L230.98,198.41Z" fill="#ff0000"/><path d="M241.38,197.03L243.78,200.33L241.38,203.63L238.98,200.33Z" fill="#ff0000"/><path d="M249.37,202.63L251.77,205.93L249.37,209.23L246.97,205.93Z" fill="#ff0000"/><path d="M257.37,208.39L259.77,211.69L257.37,214.99L254.97,211.69Z" fill="#ff0000"/><path d="M265.36,212.35L267.76,215.65L265.36,218.95L262.96,215.65Z" fill="#ff0000"/><path d="M277.36,217.57L279.75,220.87L277.36,224.17L274.96,220.87Z" fill="#ff0000"/><path d="M293.35,228.26L295.75,231.56L293.35,234.86L290.95,231.56Z" fill="#ff0000"/><path d="M309.33,236.63L311.73,239.93L309.33,243.23L306.94,239.93Z" fill="#ff0000"/><path d="M325.32,248.22L327.72,251.52L325.32,254.82L322.93,251.52Z" fill="#ff0000"/><path d="M341.31,253.92L343.71,257.22L341.31,260.52L338.92,257.22Z" fill="#ff0000"/><path d="M357.31,229.73L359.7,233.03L357.31,236.33L354.91,233.03Z" fill="#ff0000"/>
<rect x="73.7" y="240.9" width="5.6" height="5.6" fill="#000"/><line x1="64" y1="256.4" x2="89" y2="256.4" stroke="#0000ff" stroke-width="1.15"/><path d="M76.5,253.7L79.4,259.1L73.6,259.1Z" fill="#0000ff"/><line x1="64" y1="269.5" x2="89" y2="269.5" stroke="#ff0000" stroke-width="1" stroke-dasharray="1.3,0.9"/><path d="M76.5,266.5L78.4,269.6L76.5,272.7L74.6,269.6Z" fill="#ff0000"/>
<text x="50.79" y="13.7" font-size="12.13" fill="#000">7000 GeV pp</text><text x="314.76" y="13.9" font-size="11.96" fill="#000">Soft QCD</text><text x="129" y="43.6" font-size="12.10" fill="#000">Momentum fraction z</text><text x="241.8" y="42.6" font-size="9.2" textLength="45.6" lengthAdjust="spacingAndGlyphs">(track jets)</text><text x="270.67" y="503.8" font-size="12.66" fill="#000">Charged particle z</text><path d="M26.5,60.7V53.5L24.21,54.78" fill="none" stroke="#000" stroke-width="1.05" stroke-linejoin="round"/><text x="29.18" y="60.7" font-size="10.50" fill="#000">0</text><text x="34.94" y="56.6" font-size="7.20" fill="#000">2</text><path d="M30.4,140.8V133.6L28.11,134.88" fill="none" stroke="#000" stroke-width="1.05" stroke-linejoin="round"/><text x="33.88" y="140.8" font-size="10.50" fill="#000">0</text><path d="M38.4,221.7V214.6L36.14,215.86" fill="none" stroke="#000" stroke-width="1.05" stroke-linejoin="round"/><path d="M24.2,302.6V295.7L22,296.92" fill="none" stroke="#000" stroke-width="1.05" stroke-linejoin="round"/><text x="26.58" y="302.6" font-size="10.50" fill="#000">0</text><text x="32.64" y="298.8" font-size="7.20" fill="#000">−</text><path d="M39.3,298.7V294.3L37.87,295.02" fill="none" stroke="#000" stroke-width="0.9" stroke-linejoin="round"/><text x="32.44" y="340.7" font-size="11.20" fill="#000">2</text><path d="M36.6,401.7V394.1L34.18,395.46" fill="none" stroke="#000" stroke-width="1.05" stroke-linejoin="round"/><text x="21.51" y="462.1" font-size="12.14" fill="#000">0.5</text><text x="373.64" y="340.7" font-size="11.20" fill="#000">2</text><path d="M377.45,402.7V395L375,396.38" fill="none" stroke="#000" stroke-width="1.05" stroke-linejoin="round"/><text x="373.72" y="461.8" font-size="11.98" fill="#000">0.5</text><text x="42.85" y="489.3" font-size="11.20" fill="#000">0</text><text x="196.62" y="488.7" font-size="12.06" fill="#000">0.5</text><path d="M366.4,488.7V481.3L364.04,482.62" fill="none" stroke="#000" stroke-width="1.05" stroke-linejoin="round"/><text transform="translate(18.2,427.76) rotate(-90)" font-size="9.80" fill="#000" textLength="62.28" lengthAdjust="spacingAndGlyphs">Ratio to ATLAS</text><path d="M14.1,75.4H5.3L7.9,77.9" fill="none" stroke="#000" stroke-width="1.1" stroke-linejoin="round"/><text transform="translate(14,72.0) rotate(-90)" font-size="12.2">/N<tspan font-size="7.8" dy="2.9">jet</tspan><tspan dy="-2.9"> dN/dz</tspan></text><text transform="translate(380,132.58) rotate(-90)" font-size="10.30" fill="#777" textLength="114.15" lengthAdjust="spacingAndGlyphs">Rivet 3.1.10, ≥ 200k events</text><text transform="translate(380.7,314.06) rotate(-90)" font-size="10.30" fill="#777" textLength="148.35" lengthAdjust="spacingAndGlyphs">mcplots.cern.ch [arXiv:1306.3436]</text><text x="167.88" y="301.7" font-size="8.40" fill="#aaa" textLength="79.43" lengthAdjust="spacingAndGlyphs">ATLAS_2011_I919017</text><text x="94.58" y="247.1" font-size="9.90" fill="#000" textLength="28.93" lengthAdjust="spacingAndGlyphs">ATLAS</text><text x="93.82" y="259.4" font-size="9.90" fill="#000" textLength="83.75" lengthAdjust="spacingAndGlyphs">Pythia 8.170 default</text><text x="94.18" y="272.1" font-size="9.90" fill="#000" textLength="83.89" lengthAdjust="spacingAndGlyphs">Sherpa 2.2.9 default</text>
</g></svg></body></html>
